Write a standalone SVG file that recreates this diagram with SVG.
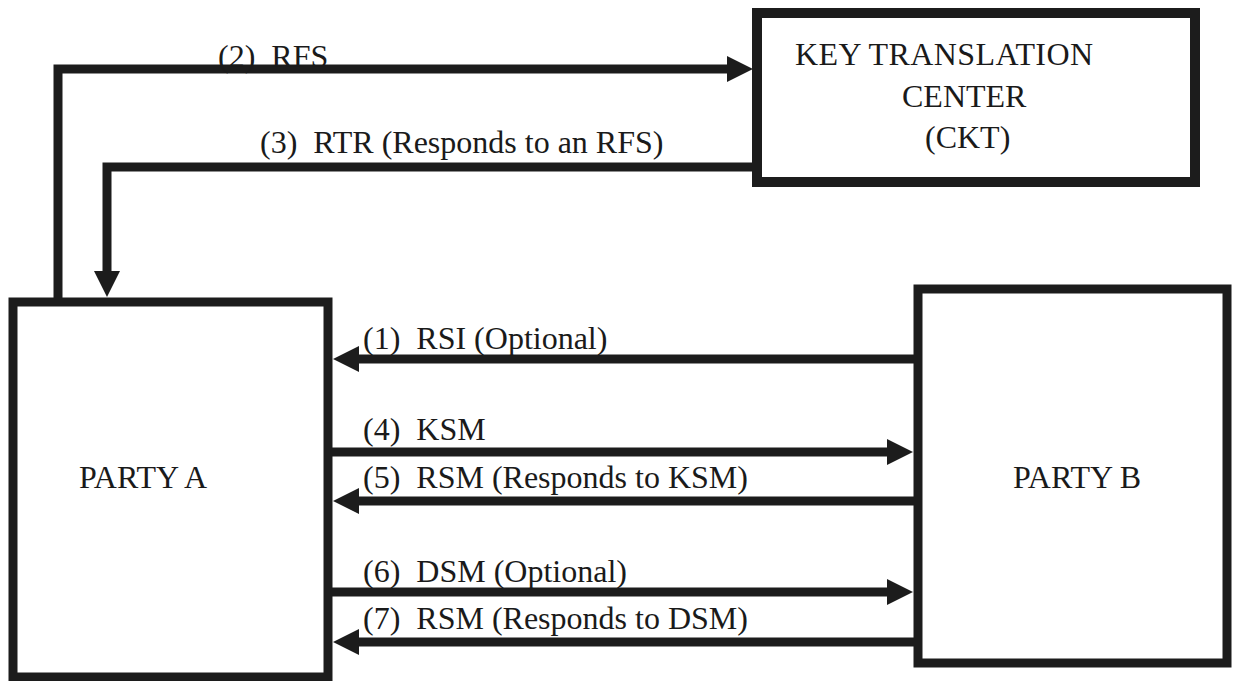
<svg xmlns="http://www.w3.org/2000/svg" width="1233" height="681" viewBox="0 0 1233 681">
  <style>
    .box { fill: #ffffff; stroke: #1c1c1c; stroke-width: 9; }
    .ktc { stroke-width: 10; }
    .conn { fill: none; stroke: #1c1c1c; stroke-width: 9; stroke-linejoin: miter; marker-end: url(#arrow); }
    .t { font-family: 'Liberation Serif', 'Times New Roman', Times, 'DejaVu Serif', serif; font-size: 32px; fill: #1a1a1a; }
  </style>
  <defs>
    <marker id="arrow" viewBox="0 0 26 26" refX="6" refY="13" markerWidth="26" markerHeight="26" markerUnits="userSpaceOnUse" orient="auto">
      <path d="M0,0 L26,13 L0,26 Z" fill="#1c1c1c"/>
    </marker>
  </defs>
  <rect width="1233" height="681" fill="#ffffff"/>

  <g id="node-ktc">
    <rect class="box ktc" x="757" y="13" width="438" height="169"/>
    <text class="t" font-family="Liberation Serif, serif" x="795" y="65" textLength="298" lengthAdjust="spacing">KEY TRANSLATION</text>
    <text class="t" font-family="Liberation Serif, serif" x="902" y="107">CENTER</text>
    <text class="t" font-family="Liberation Serif, serif" x="925" y="148">(CKT)</text>
  </g>

  <g id="node-party-a">
    <rect class="box" x="13" y="302" width="315" height="375"/>
    <text class="t" font-family="Liberation Serif, serif" x="79" y="488">PARTY A</text>
  </g>

  <g id="node-party-b">
    <rect class="box" x="918" y="289" width="309" height="374"/>
    <text class="t" font-family="Liberation Serif, serif" x="1013" y="488">PARTY B</text>
  </g>

  <g id="connectors">
    <path class="conn" d="M58,302 V69 H733"/>
    <path class="conn" d="M757,167 H107 V277"/>
    <path class="conn" d="M918,359 H353"/>
    <path class="conn" d="M328,452 H893"/>
    <path class="conn" d="M918,501 H353"/>
    <path class="conn" d="M328,592 H893"/>
    <path class="conn" d="M918,642 H353"/>
  </g>

  <g id="labels">
    <text class="t" font-family="Liberation Serif, serif" x="218" y="67" xml:space="preserve">(2)  RFS</text>
    <text class="t" font-family="Liberation Serif, serif" x="260" y="153" xml:space="preserve">(3)  RTR (Responds to an RFS)</text>
    <text class="t" font-family="Liberation Serif, serif" x="363" y="349" xml:space="preserve">(1)  RSI (Optional)</text>
    <text class="t" font-family="Liberation Serif, serif" x="363" y="440" xml:space="preserve">(4)  KSM</text>
    <text class="t" font-family="Liberation Serif, serif" x="363" y="488" xml:space="preserve">(5)  RSM (Responds to KSM)</text>
    <text class="t" font-family="Liberation Serif, serif" x="363" y="582" xml:space="preserve">(6)  DSM (Optional)</text>
    <text class="t" font-family="Liberation Serif, serif" x="363" y="629" xml:space="preserve">(7)  RSM (Responds to DSM)</text>
  </g>
</svg>
